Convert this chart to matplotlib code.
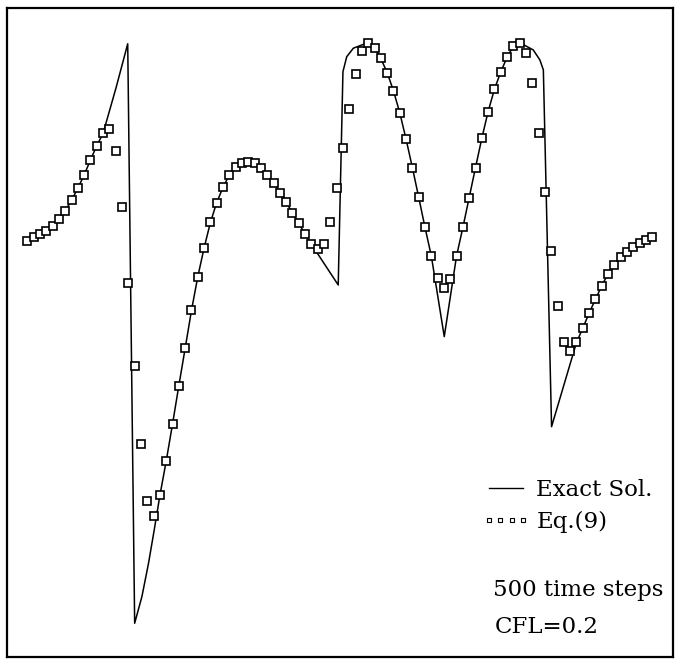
import numpy as np
import matplotlib
matplotlib.use('Agg')
import matplotlib.pyplot as plt
from matplotlib.lines import Line2D

# cell centres of the 100-cell grid on [-1, 1]
x_cells = np.linspace(-0.99, 0.99, 100)

# numerical solution, Eq.(9), after 500 time steps
u_num = [0.327, 0.339, 0.349, 0.361, 0.378, 0.402, 0.429, 0.464, 0.506, 0.551,
         0.602, 0.651, 0.693, 0.707, 0.634, 0.443, 0.182, -0.099, -0.366, -0.562,
         -0.610, -0.541, -0.424, -0.298, -0.167, -0.040, 0.089, 0.204, 0.302, 0.389,
         0.457, 0.509, 0.551, 0.579, 0.593, 0.595, 0.591, 0.576, 0.552, 0.525,
         0.491, 0.458, 0.421, 0.387, 0.349, 0.315, 0.298, 0.315, 0.389, 0.508,
         0.642, 0.775, 0.895, 0.974, 1.002, 0.985, 0.948, 0.900, 0.838, 0.763,
         0.673, 0.576, 0.475, 0.372, 0.275, 0.199, 0.164, 0.196, 0.275, 0.372,
         0.474, 0.576, 0.676, 0.767, 0.843, 0.902, 0.952, 0.991, 1.002, 0.966,
         0.864, 0.693, 0.493, 0.293, 0.106, -0.017, -0.048, -0.020, 0.029, 0.080,
         0.127, 0.173, 0.214, 0.243, 0.271, 0.290, 0.305, 0.318, 0.330, 0.341]

# exact solution, traced vertex by vertex
x_exact = [-1.0, -0.99, -0.97, -0.95, -0.93, -0.91, -0.89, -0.87, -0.85, -0.83,
           -0.81, -0.79, -0.77, -0.75, -0.709, -0.672, -0.650, -0.627, -0.606, -0.588,
           -0.57, -0.55, -0.53, -0.51, -0.49, -0.47, -0.45, -0.43, -0.41, -0.39,
           -0.37, -0.35, -0.33, -0.31, -0.29, -0.27, -0.25, -0.23, -0.21, -0.19,
           -0.17, -0.15, -0.13, -0.11, -0.09, -0.005, 0.010, 0.022, 0.043, 0.070,
           0.09, 0.11, 0.13, 0.15, 0.17, 0.19, 0.21, 0.23, 0.25, 0.27,
           0.29, 0.331, 0.37, 0.39, 0.41, 0.43, 0.45, 0.47, 0.49, 0.51,
           0.53, 0.55, 0.57, 0.613, 0.634, 0.645, 0.671, 0.75, 0.77, 0.79,
           0.81, 0.83, 0.85, 0.87, 0.89, 0.91, 0.93, 0.95, 0.97, 0.99, 1.0]
u_exact = [0.323, 0.327, 0.339, 0.349, 0.361, 0.378, 0.402, 0.429, 0.464, 0.506,
           0.551, 0.602, 0.651, 0.693, 0.848, 0.998, -0.977, -0.886, -0.772, -0.659,
           -0.541, -0.424, -0.298, -0.167, -0.040, 0.089, 0.204, 0.302, 0.389, 0.457,
           0.509, 0.551, 0.579, 0.593, 0.595, 0.591, 0.576, 0.552, 0.525, 0.491,
           0.458, 0.421, 0.387, 0.349, 0.315, 0.176, 0.903, 0.954, 0.983, 0.994,
           1.002, 0.985, 0.948, 0.900, 0.838, 0.763, 0.673, 0.576, 0.475, 0.372,
           0.275, 0.0, 0.275, 0.372, 0.474, 0.576, 0.676, 0.767, 0.843, 0.902,
           0.952, 0.991, 1.002, 0.977, 0.943, 0.909, -0.307, -0.020, 0.029, 0.080,
           0.127, 0.173, 0.214, 0.243, 0.271, 0.290, 0.305, 0.318, 0.330, 0.341, 0.345]

plt.rcParams['font.family'] = ['DejaVu Serif']

fig = plt.figure(figsize=(6.79, 6.60), dpi=100)
ax = fig.add_axes([7 / 679, 3 / 660, 666 / 679, 649 / 660])

ax.plot(x_exact, u_exact, color='black', lw=1.1)
ax.plot(x_cells, u_num, ls='none', marker='s', ms=5.3, mfc='white',
        mec='black', mew=1.2)

ax.set_xlim(-1.0545, 1.0558)
ax.set_ylim(-1.092, 1.120)
ax.set_xticks([])
ax.set_yticks([])
for s in ax.spines.values():
    s.set_linewidth(1.6)

h_line = Line2D([], [], color='black', lw=1.0)
h_sq = Line2D([], [], ls='none', marker='s', ms=3, mfc='white', mec='black', mew=0.8)
ax.legend([h_line, h_sq], ['Exact Sol.', 'Eq.(9)'], loc='upper left',
          bbox_to_anchor=(0.714, 0.275), frameon=False, numpoints=4,
          handlelength=2.05, handletextpad=0.3, borderpad=0, borderaxespad=0,
          labelspacing=0.45, fontsize=16.5)

ax.text(0.729, 0.103, '500 time steps', transform=ax.transAxes,
        fontsize=16.5, va='center', ha='left')
ax.text(0.733, 0.046, 'CFL=0.2', transform=ax.transAxes,
        fontsize=16.5, va='center', ha='left')

fig.savefig('out.png', dpi=100)
